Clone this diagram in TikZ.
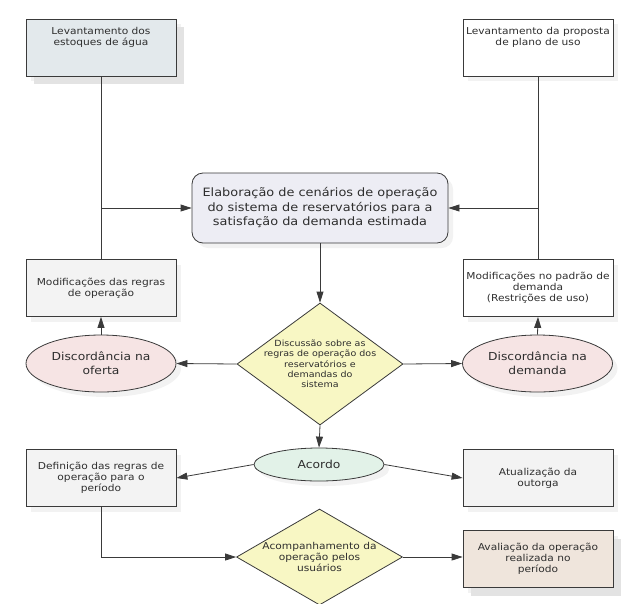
\documentclass[tikz,border=0pt]{standalone}
\usepackage{fontspec}
\setmainfont{DejaVu Sans}[FakeStretch=1.12]
\usetikzlibrary{arrows.meta, shapes.geometric, shadows}
\definecolor{linha}{HTML}{3A3A3A}
\definecolor{texto}{HTML}{2E2E2E}
\definecolor{azulA}{HTML}{E3E9EC}
\definecolor{lavanda}{HTML}{EDEDF4}
\definecolor{rosa}{HTML}{F6E4E4}
\definecolor{amarelo}{HTML}{F8F7C4}
\definecolor{verde}{HTML}{E2F2E8}
\definecolor{cinza}{HTML}{F3F3F3}
\definecolor{bege}{HTML}{EFE5DC}

\begin{document}
\begin{tikzpicture}[x=1pt, y=-1pt, >={Triangle[length=11pt,width=7pt]},
  line width=0.8pt, draw=linha, text=texto,
  sombra/.style={drop shadow={shadow xshift=5pt, shadow yshift=-5pt, fill=black!5, opacity=1}},
  caixa/.style={rectangle, draw=linha, fill=cinza, sombra, align=center, inner sep=2pt,
    minimum width=150pt, minimum height=57pt, font=\fontsize{9.5}{11}\selectfont},
  elipse/.style={ellipse, draw=linha, fill=rosa, sombra, align=center, inner sep=0pt,
    minimum width=150pt, minimum height=57pt, font=\fontsize{11}{14}\selectfont},
  decisao/.style={diamond, draw=linha, fill=amarelo, inner sep=0pt, minimum width=166pt},
  rotulo/.style={align=center, text=texto, font=\fontsize{8.5}{10.3}\selectfont},
  seta/.style={->, draw=linha}]
  \useasboundingbox (0,0) rectangle (631,603);

  % caixas de cima
  \node[caixa, fill=azulA, drop shadow={shadow xshift=8pt, shadow yshift=-8pt, fill=black!11, opacity=1}]
    (estoques) at (101,47.5) {Levantamento dos\\estoques de água\\[12pt]};
  \node[caixa, fill=white] (proposta) at (538,47.5) {Levantamento da proposta\\de plano de uso\\[12pt]};

  % cenarios
  \node[rectangle, rounded corners=11pt, draw=linha, fill=lavanda, sombra, align=center,
    minimum width=256pt, minimum height=70pt, font=\fontsize{11.5}{14.5}\selectfont]
    (cenarios) at (320,208) {Elaboração de cenários de operação\\do sistema de reservatórios para a\\satisfação da demanda estimada};

  % modificacoes
  \node[caixa] (modOferta) at (101,288) {Modificações das regras\\de operação};
  \node[caixa, fill=white] (modDemanda) at (538,288) {Modificações no padrão de\\demanda\\(Restrições de uso)};

  % discussao e discordancias
  \node[decisao, minimum height=122pt,
    label={[rotulo]center:Discussão sobre as\\regras de operação dos\\reservatórios e\\demandas do\\sistema}]
    (discussao) at (320,364) {};
  \node[elipse] (discOferta) at (101,363.5) {Discordância na\\oferta};
  \node[elipse] (discDemanda) at (537.5,363.5) {Discordância na\\demanda};

  % acordo
  \node[elipse, fill=verde, minimum width=130pt, minimum height=33pt] (acordo) at (319,464.5) {Acordo};
  \node[caixa] (definicao) at (101,478) {Definição das regras de\\operação para o\\período};
  \node[caixa] (outorga) at (538,478) {Atualização da\\outorga};

  % acompanhamento
  \node[decisao, minimum height=96pt,
    label={[rotulo, font=\fontsize{9.5}{11}\selectfont]center:Acompanhamento da\\operação pelos\\usuários}]
    (acomp) at (319.5,557) {};
  \node[caixa, fill=bege, drop shadow={shadow xshift=8pt, shadow yshift=-8pt, fill=black!11, opacity=1}]
    (avaliacao) at (538,559) {Avaliação da operação\\realizada no\\período};

  % conectores
  \draw (estoques.south) -- (modOferta.north);
  \draw (proposta.south) -- (modDemanda.north);
  \draw[seta] (estoques.south |- cenarios.west) -- (cenarios.west);
  \draw[seta] (proposta.south |- cenarios.east) -- (cenarios.east);
  \draw[seta] (cenarios.south) -- (discussao.north);
  \draw[seta] (discussao.west) -- (discOferta.east);
  \draw[seta] (discussao.east) -- (discDemanda.west);
  \draw[seta] (discOferta.north) -- (modOferta.south);
  \draw[seta] (discDemanda.north) -- (modDemanda.south);
  \draw[seta] (discussao.south) -- (acordo.north);
  \draw[seta] (acordo.west) -- (definicao.east);
  \draw[seta] (acordo.east) -- (outorga.west);
  \draw[seta] (definicao.south) |- (acomp.west);
  \draw[seta] (acomp.east) -- (acomp.east -| avaliacao.west);
\end{tikzpicture}
\end{document}
